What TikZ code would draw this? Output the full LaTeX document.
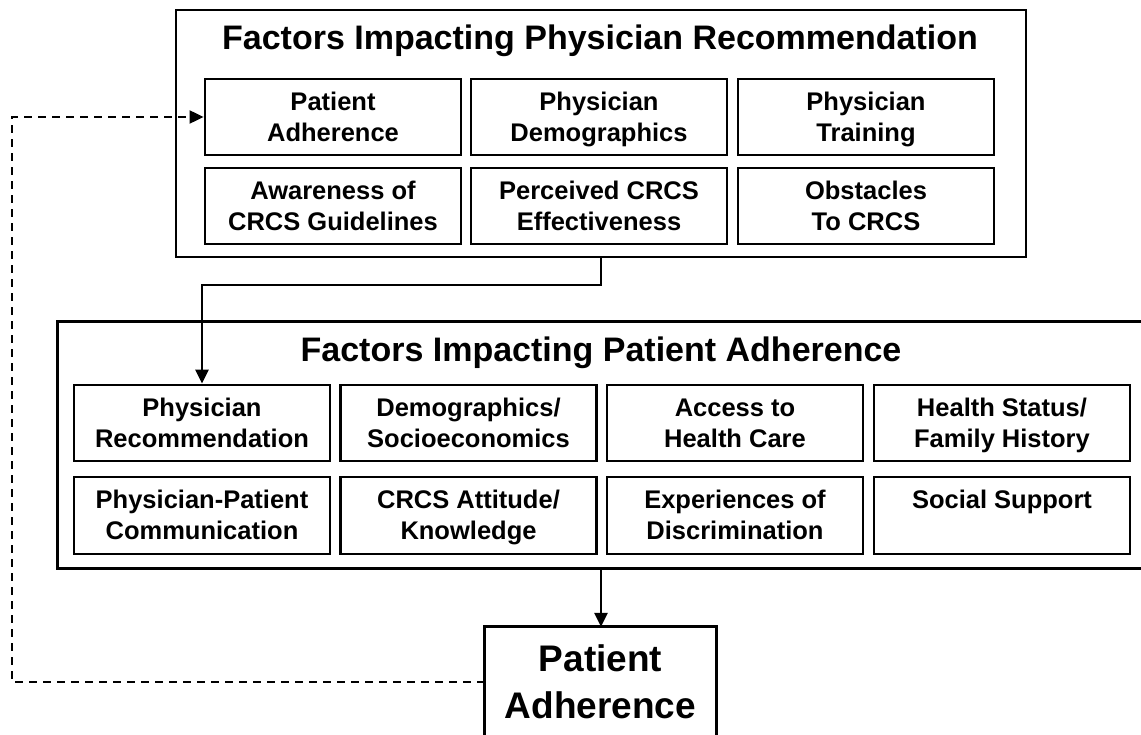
\documentclass[tikz,border=0pt]{standalone}
\usepackage{fontspec}
\setmainfont{Liberation Sans}
\usetikzlibrary{arrows.meta}
\newcommand\topstrut{\rule{0pt}{27pt}}
\tikzset{
  frame/.style={draw, line width=2.8pt},
  cell/.style={draw, line width=2.8pt, minimum width=256pt, minimum height=76pt, inner sep=0pt,
    align=center, font=\fontsize{25.5}{31}\selectfont\bfseries},
  titletext/.style={anchor=base, inner sep=0pt, font=\fontsize{34}{38}\selectfont\bfseries},
  conn/.style={line width=2.8pt, -{Triangle[length=14pt,width=13pt]}},
  dashconn/.style={line width=2pt, dash pattern=on 8pt off 6pt, -{Triangle[length=14pt,width=13pt]}}
}
\begin{document}
\begin{tikzpicture}[x=1pt,y=-1pt]
\useasboundingbox[fill=white] (0,0) rectangle (1141,735);
% top box
\node[frame, minimum width=850pt, minimum height=247pt, inner sep=0pt] (top) at (601,133.5) {};
\node[titletext] (toptitle) at (600,50) {Factors Impacting Physician Recommendation};
\node[cell] (t1) at (333,117) {\topstrut Patient\\Adherence\strut};
\node[cell] (t2) at (599,117) {\topstrut Physician\\Demographics\strut};
\node[cell] (t3) at (866,117) {\topstrut Physician\\Training\strut};
\node[cell] (t4) at (333,206) {\topstrut Awareness of\\CRCS Guidelines\strut};
\node[cell] (t5) at (599,206) {\topstrut Perceived CRCS\\Effectiveness\strut};
\node[cell] (t6) at (866,206) {\topstrut Obstacles\\To CRCS\strut};
% middle box (open to the right)
\node[minimum width=1092pt, minimum height=246pt, inner sep=0pt] (mid) at (604,445) {};
\draw[line width=2.8pt] (mid.north east) -- (mid.north west) -- (mid.south west) -- (mid.south east);
\node[titletext] (midtitle) at (601,362) {Factors Impacting Patient Adherence};
\node[cell] (m1) at (202,423) {\topstrut Physician\\Recommendation\strut};
\node[cell] (m2) at (468.5,423) {\topstrut Demographics/\\Socioeconomics\strut};
\node[cell] (m3) at (735,423) {\topstrut Access to\\Health Care\strut};
\node[cell] (m4) at (1002,423) {\topstrut Health Status/\\Family History\strut};
\node[cell, minimum height=77pt] (m5) at (202,515.5) {\topstrut Physician-Patient\\Communication\strut};
\node[cell, minimum height=77pt] (m6) at (468.5,515.5) {\topstrut CRCS Attitude/\\Knowledge\strut};
\node[cell, minimum height=77pt] (m7) at (735,515.5) {\topstrut Experiences of\\Discrimination\strut};
\node[cell, minimum height=77pt] (m8) at (1002,515.5) {\topstrut Social Support\\\strut};
% bottom box (open at the bottom)
\node[minimum width=231pt, minimum height=118pt, inner sep=0pt, align=center,
  font=\fontsize{37}{47}\selectfont\bfseries] (pa) at (600.5,686) {Patient\strut\\Adherence\strut};
\draw[line width=2.8pt] (pa.south west) -- (pa.north west) -- (pa.north east) -- (pa.south east);
% connectors
\coordinate (c1) at (601,285);
\draw[conn] (top.south -| 601,0) -- (c1) -| (m1.north);
\draw[conn] (mid.south -| 601,0) -- (pa.north -| 601,0);
\coordinate (d1) at (12,682);
\coordinate (d2) at (12,117);
\draw[dashconn] (pa.west |- 0,682) -- (d1) -- (d2) -- (t1.west);
\end{tikzpicture}
\end{document}
